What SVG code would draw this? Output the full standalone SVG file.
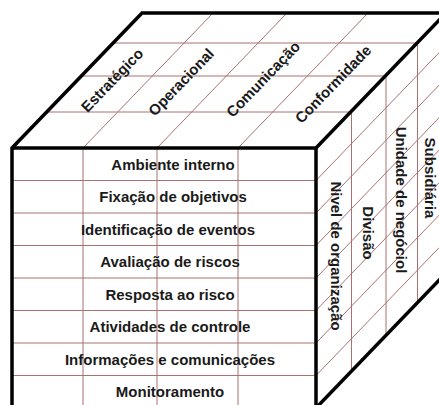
<svg xmlns="http://www.w3.org/2000/svg" width="439" height="405" viewBox="0 0 439 405">
  <style>
    .grid { stroke: #a87272; stroke-width: 1; fill: none; }
    .edge { stroke: #000; stroke-width: 3.5; fill: none; stroke-linejoin: miter; }
    .lbl { font-family: "Liberation Sans", Arial, sans-serif; font-weight: bold; font-size: 15px; fill: #1a1a1a; text-anchor: middle; }
  </style>
  <rect x="0" y="0" width="439" height="405" fill="#ffffff"/>

  <g id="faces">
    <polygon id="top-face" points="12,148 142,13 446,13 316,148" fill="#ffffff"/>
    <polygon id="side-face" points="316,148 446,13 446,273 316,408" fill="#ffffff"/>
    <rect id="front-face" x="12" y="148" width="304" height="260" fill="#ffffff"/>
  </g>

  <g id="connectors">
    <line class="grid" x1="46.7" y1="112" x2="350.7" y2="112"/>
    <line class="grid" x1="81.3" y1="76" x2="385.3" y2="76"/>
    <line class="grid" x1="113.1" y1="43" x2="417.1" y2="43"/>
    <line class="grid" x1="83" y1="148" x2="213" y2="13"/>
    <line class="grid" x1="157" y1="148" x2="287" y2="13"/>
    <line class="grid" x1="238" y1="148" x2="368" y2="13"/>
    <line class="grid" x1="83" y1="148" x2="83" y2="408"/>
    <line class="grid" x1="157" y1="148" x2="157" y2="408"/>
    <line class="grid" x1="238" y1="148" x2="238" y2="408"/>
    <line class="grid" x1="12" y1="180.5" x2="316" y2="180.5"/>
    <line class="grid" x1="12" y1="213" x2="316" y2="213"/>
    <line class="grid" x1="12" y1="245.5" x2="316" y2="245.5"/>
    <line class="grid" x1="12" y1="278" x2="316" y2="278"/>
    <line class="grid" x1="12" y1="310.5" x2="316" y2="310.5"/>
    <line class="grid" x1="12" y1="343" x2="316" y2="343"/>
    <line class="grid" x1="12" y1="375.5" x2="316" y2="375.5"/>
    <line class="grid" x1="351.5" y1="112" x2="351.5" y2="371"/>
    <line class="grid" x1="386" y1="76" x2="386" y2="335"/>
    <line class="grid" x1="417.5" y1="43" x2="417.5" y2="303"/>
    <line class="grid" x1="316" y1="180.5" x2="446" y2="45.5"/>
    <line class="grid" x1="316" y1="213" x2="446" y2="78"/>
    <line class="grid" x1="316" y1="245.5" x2="446" y2="110.5"/>
    <line class="grid" x1="316" y1="278" x2="446" y2="143"/>
    <line class="grid" x1="316" y1="310.5" x2="446" y2="175.5"/>
    <line class="grid" x1="316" y1="343" x2="446" y2="208"/>
    <line class="grid" x1="316" y1="375.5" x2="446" y2="240.5"/>
  </g>

  <g id="outline">
    <polyline class="edge" points="12,410 12,148 142,13 446,13"/>
    <polyline class="edge" points="12,148 316,148 446,13"/>
    <line class="edge" x1="316" y1="148" x2="316" y2="410"/>
    <line class="edge" x1="316" y1="408" x2="446" y2="273"/>
  </g>

  <g id="objectives">
    <g id="obj-estrategico"><text class="lbl" transform="translate(112,80) rotate(-46)" y="5.4">Estratégico</text></g>
    <g id="obj-operacional"><text class="lbl" transform="translate(181,82) rotate(-46)" y="5.4">Operacional</text></g>
    <g id="obj-comunicacao"><text class="lbl" transform="translate(263,79) rotate(-46)" y="5.4">Comunicação</text></g>
    <g id="obj-conformidade"><text class="lbl" transform="translate(333,84) rotate(-46)" y="5.4">Conformidade</text></g>
  </g>

  <g id="components">
    <g id="c1"><text class="lbl" x="173" y="169.6">Ambiente interno</text></g>
    <g id="c2"><text class="lbl" x="173" y="202.1">Fixação de objetivos</text></g>
    <g id="c3"><text class="lbl" x="168" y="234.6">Identificação de eventos</text></g>
    <g id="c4"><text class="lbl" x="170" y="267.1">Avaliação  de riscos</text></g>
    <g id="c5"><text class="lbl" x="170" y="299.6">Resposta ao risco</text></g>
    <g id="c6"><text class="lbl" x="170" y="332.1">Atividades de controle</text></g>
    <g id="c7"><text class="lbl" x="170" y="364.6">Informações e comunicações</text></g>
    <g id="c8"><text class="lbl" x="170" y="397.1">Monitoramento</text></g>
  </g>

  <g id="units">
    <g id="u1"><text class="lbl" transform="translate(336,256) rotate(90)" y="5.4">Nivel de organização</text></g>
    <g id="u2"><text class="lbl" transform="translate(368,233) rotate(90)" y="5.4">Divisão</text></g>
    <g id="u3"><text class="lbl" transform="translate(401,200) rotate(90)" y="5.4">Unidade de negóciol</text></g>
    <g id="u4"><text class="lbl" transform="translate(430,178) rotate(90)" y="5.4">Subsidiária</text></g>
  </g>
</svg>
